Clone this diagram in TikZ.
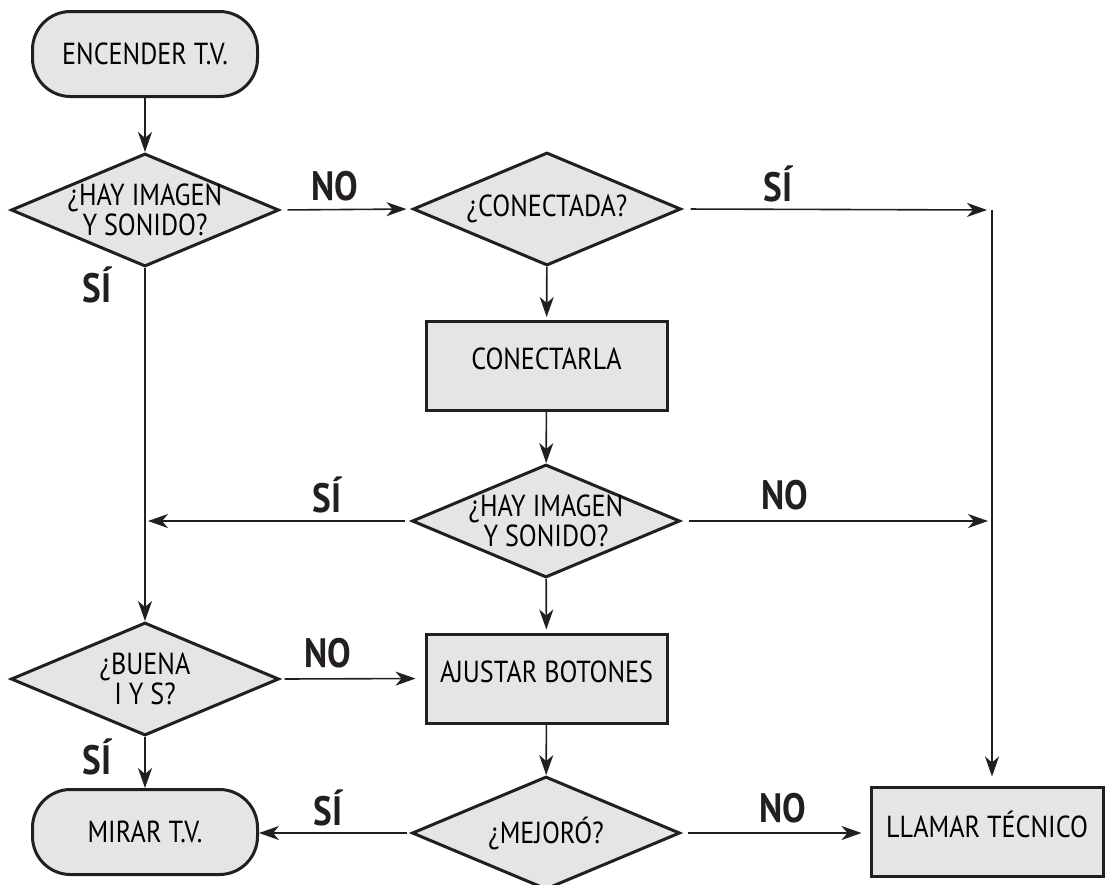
\documentclass[tikz,border=0pt]{standalone}
\usepackage{fontspec}
\setmainfont[FakeStretch=0.86]{PT Sans}
\usetikzlibrary{shapes.geometric,arrows.meta}
\definecolor{boxgray}{HTML}{E4E5E6}
\definecolor{ink}{HTML}{231F20}
\begin{document}
\begin{tikzpicture}[x=0.5pt,y=-0.5pt,line join=miter,>={Stealth[length=10pt,width=7pt,inset=3pt]},font=\fontsize{15.2}{14}\selectfont,
		term/.style={draw=ink,fill=boxgray,line width=1.5pt,rounded corners=19pt,minimum width=112.5pt,minimum height=42.5pt,inner sep=0pt},
		proc/.style={draw=ink,fill=boxgray,line width=1.5pt,minimum width=120.5pt,minimum height=44.5pt,inner sep=0pt,text depth=7pt},
		decide/.style={diamond,draw=ink,fill=boxgray,line width=1.5pt,minimum width=134pt,minimum height=56.5pt,inner sep=-8pt,aspect=2.37,align=center},
		link/.style={ink,line width=0.8pt},
		ans/.style={ink,font=\fontsize{20.5}{20}\selectfont\bfseries}]
			\useasboundingbox (0,0) rectangle (1106,884);
			\node[term] (start) at (145,54) {ENCENDER T.V.};
			\node[decide] (img1) at (145,210) {¿HAY IMAGEN\\Y SONIDO?};
			\node[decide] (conn) at (547,209) {¿CONECTADA?};
			\node[proc] (plug) at (546.5,366) {CONECTARLA};
			\node[decide] (img2) at (546,521) {¿HAY IMAGEN\\Y SONIDO?};
			\node[decide] (good) at (145,679) {¿BUENA\\I Y S?};
			\node[proc] (adjust) at (546.5,678.5) {AJUSTAR BOTONES};
			\node[decide] (better) at (546,833) {¿MEJORÓ?};
			\node[term] (watch) at (145,832) {MIRAR T.V.};
			\node[proc,minimum width=116pt] (call) at (987,831.5) {LLAMAR TÉCNICO};
			\coordinate (bend) at (992,210);
			\draw[link,->] (start) -- (img1);
			\draw[link,->,shorten <=3.5pt,shorten >=2.5pt] (img1.east) -- (conn.west);
			\draw[link,->,shorten <=4pt,shorten >=2.5pt] (conn.east) -- (bend);
			\draw[link,->,shorten >=4.5pt] (bend) -- (bend |- call.north);
			\draw[link,->,shorten >=1.5pt] (conn) -- (plug);
			\draw[link,->] (plug) -- (img2);
			\draw[link,->,shorten <=3pt,shorten >=1.5pt] (img2.west) -- (img1.south |- img2.west);
			\draw[link,->,shorten <=3.5pt,shorten >=2pt] (img2.east) -- (bend |- img2.east);
			\draw[link,->] (img1.south) -- (good.north);
			\draw[link,->,shorten >=1.5pt] (img2) -- (adjust);
			\draw[link,->,shorten <=2pt,shorten >=4.5pt] (good.east) -- (adjust.west);
			\draw[link,->] (good) -- (watch);
			\draw[link,->] (adjust) -- (better);
			\draw[link,->,shorten <=2pt] (better.west) -- (better.west -| watch.east);
			\draw[link,->,shorten <=3pt,shorten >=4pt] (better.east) -- (better.east -| call.west);
			\node[ans] (no1) at (335,186) {NO};
			\node[ans] (si1) at (97,285) {SÍ};
			\node[ans] (si2) at (778,184) {SÍ};
			\node[ans] (si3) at (327,495) {SÍ};
			\node[ans] (no2) at (785,495) {NO};
			\node[ans] (no3) at (328,653) {NO};
			\node[ans] (si4) at (97,757) {SÍ};
			\node[ans] (si5) at (328,808) {SÍ};
			\node[ans] (no4) at (783,808) {NO};
		\end{tikzpicture}
\end{document}
